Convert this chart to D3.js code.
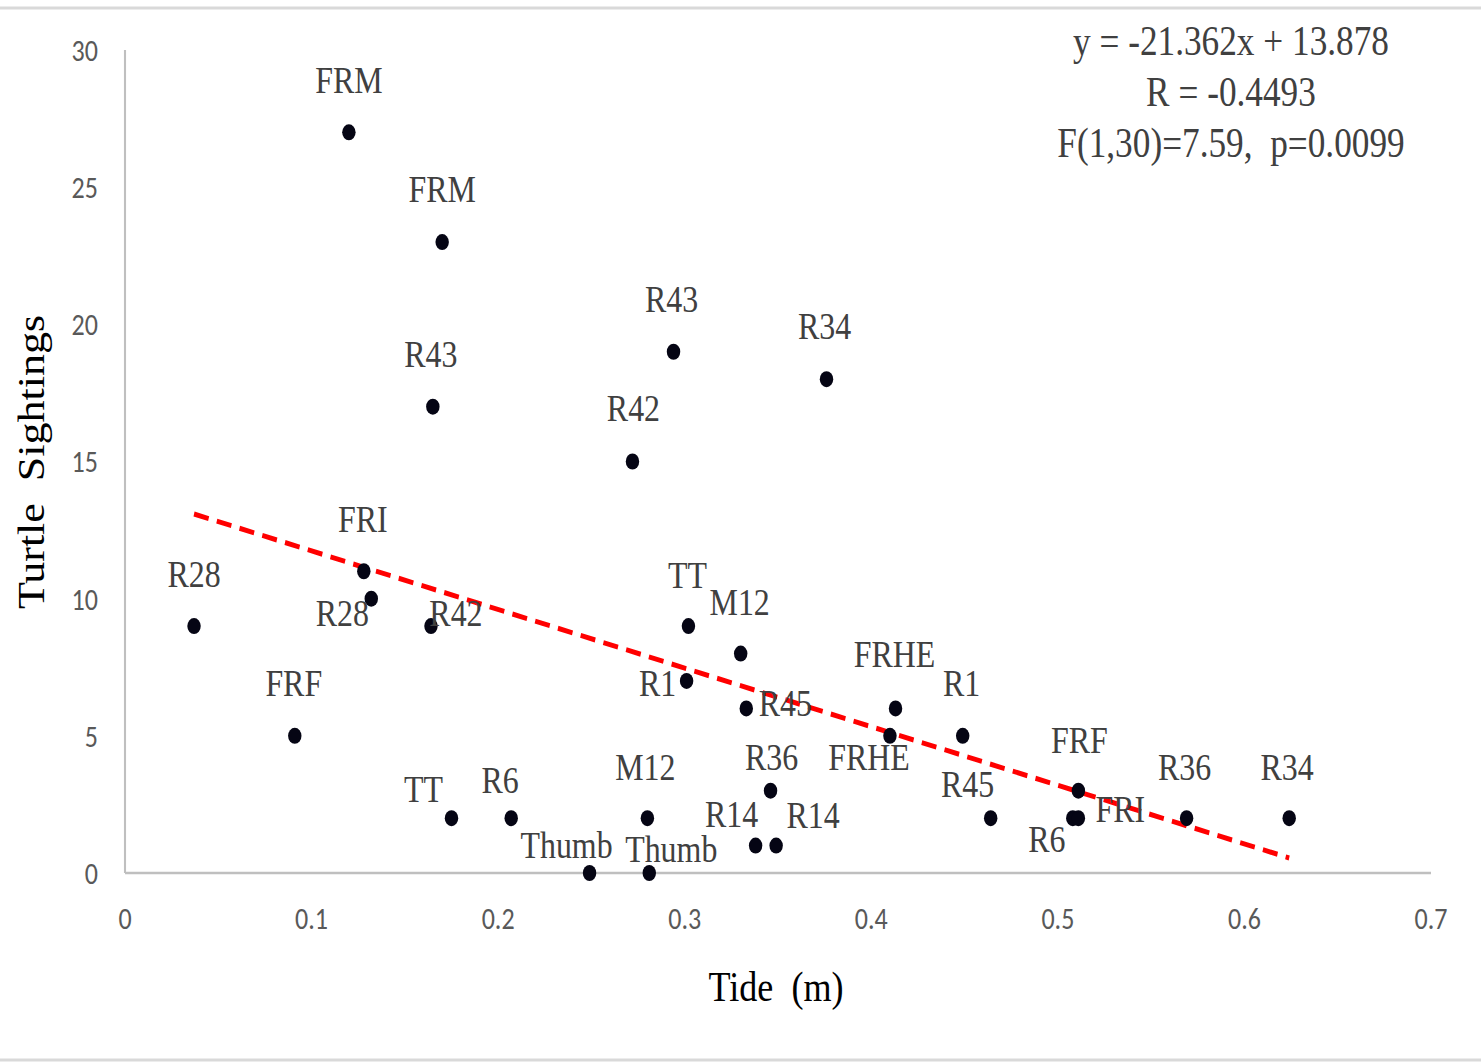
<!DOCTYPE html>
<html>
<head>
<meta charset="utf-8">
<script src="https://cdn.jsdelivr.net/npm/d3@7"></script>
<style>
  body { margin: 0; background: #fff; }
  svg { display: block; }
</style>
</head>
<body>
<svg id="chart"></svg>
<script>
// ---------------------------------------------------------------------------
// data
var site = ["FRM", "FRM", "R43", "R43", "R34", "R42", "FRI", "R28", "R28", "R42",
    "TT", "M12", "R1", "R45", "FRHE", "FRHE", "R1", "FRF", "FRF", "R36",
    "TT", "R6", "M12", "R45", "R6", "FRI", "R36", "R34", "R14", "R14",
    "Thumb", "Thumb"];
var tide = [0.120, 0.170, 0.165, 0.294, 0.376, 0.272, 0.128, 0.132, 0.037, 0.164,
    0.302, 0.330, 0.301, 0.333, 0.413, 0.410, 0.449, 0.091, 0.511, 0.346,
    0.175, 0.207, 0.280, 0.464, 0.508, 0.511, 0.569, 0.624, 0.338, 0.349,
    0.249, 0.281];
var sightings = [27, 23, 17, 19, 18, 15, 11, 10, 9, 9,
    9, 8, 7, 6, 6, 5, 5, 5, 3, 3,
    2, 2, 2, 2, 2, 2, 2, 2, 1, 1,
    0, 0];
var xTicks = [0, 0.1, 0.2, 0.3, 0.4, 0.5, 0.6, 0.7];
var yTicks = [0, 5, 10, 15, 20, 25, 30];
var slope = -21.362;
var intercept = 13.878;
var statLines = ["y = -21.362x + 13.878", "R = -0.4493", "F(1,30)=7.59,  p=0.0099"];

// label placement (screen px from the dot: centre x, baseline y)
var labelDx = [0, 0, -2, -2, -2, 1, -1, -29, 0, 25,
    -1, -1, -29, 39, -1, -21, -1, -1, 1, 1,
    -28, -11, -2, -23, -26, 42, -2, -2, -24, 37,
    -23, 22];
var labelDy = [-39, -40, -40, -40, -40, -40, -39, 27, -39, 0,
    -38, -39, 15, 8, -41, 34, -40, -40, -38, -21,
    -16, -25, -38, -21, 34, 4, -38, -38, -19, -18,
    -15, -11];
// ===========================================================================

var W = 1481, H = 1062;
var sx = 0.84;   // the whole figure is squeezed horizontally

var svg = d3.select("#chart").attr("width", W).attr("height", H);

svg.append("rect")
    .attr("x", -3).attr("y", 8)
    .attr("width", W + 6).attr("height", H - 10)
    .attr("fill", "#fff")
    .attr("stroke", "#d9d9d9")
    .attr("stroke-width", 3);

var g = svg.append("g").attr("transform", `scale(${sx},1)`);

var xScale = d3.scaleLinear()
    .domain([0, 0.7])
    .range([125 / sx, 1431 / sx]);
var yScale = d3.scaleLinear()
    .domain([0, 30])
    .range([873, 50]);

// axes lines
g.append("line")
    .attr("x1", xScale(0)).attr("x2", xScale(0))
    .attr("y1", yScale(30)).attr("y2", yScale(0))
    .attr("stroke", "#bfbfbf").attr("stroke-width", 2.5);
g.append("line")
    .attr("x1", xScale(0)).attr("x2", xScale(0.7))
    .attr("y1", yScale(0)).attr("y2", yScale(0))
    .attr("stroke", "#bfbfbf").attr("stroke-width", 2.5);

var tickFont = "Carlito, Lato, 'Open Sans', sans-serif";
var serif = "'Liberation Serif', 'Times New Roman', serif";

g.selectAll("text.ytick")
    .data(yTicks)
    .enter()
    .append("text")
    .attr("class", "ytick")
    .attr("x", 98 / sx)
    .attr("y", (d) => yScale(d))
    .attr("dy", "0.35em")
    .attr("text-anchor", "end")
    .attr("font-family", tickFont)
    .attr("font-size", 31)
    .attr("fill", "#595959")
    .text((d) => d);

g.selectAll("text.xtick")
    .data(xTicks)
    .enter()
    .append("text")
    .attr("class", "xtick")
    .attr("x", (d) => xScale(d))
    .attr("y", 918)
    .attr("dy", "0.35em")
    .attr("text-anchor", "middle")
    .attr("font-family", tickFont)
    .attr("font-size", 31)
    .attr("fill", "#595959")
    .text((d) => d);

// trend line over the data range
var xMin = d3.min(tide), xMax = d3.max(tide);
g.append("line")
    .attr("x1", xScale(xMin)).attr("y1", yScale(slope * xMin + intercept))
    .attr("x2", xScale(xMax)).attr("y2", yScale(slope * xMax + intercept))
    .attr("stroke", "#ff0000")
    .attr("stroke-width", 5)
    .attr("stroke-dasharray", "18,10");

// points
var pts = d3.range(site.length);
g.selectAll("circle")
    .data(pts)
    .enter()
    .append("circle")
    .attr("cx", (i) => xScale(tide[i]))
    .attr("cy", (i) => yScale(sightings[i]))
    .attr("r", 8)
    .attr("fill", "#050514");

// point labels
g.selectAll("text.lbl")
    .data(pts)
    .enter()
    .append("text")
    .attr("class", "lbl")
    .attr("x", (i) => xScale(tide[i]) + labelDx[i] / sx)
    .attr("y", (i) => yScale(sightings[i]) + labelDy[i])
    .attr("text-anchor", "middle")
    .attr("font-family", serif)
    .attr("font-size", 38)
    .attr("fill", "#404040")
    .text((i) => site[i]);

// regression statistics
g.selectAll("text.stat")
    .data(statLines)
    .enter()
    .append("text")
    .attr("class", "stat")
    .attr("x", 1231 / sx)
    .attr("y", (d, i) => 55 + i * 51)
    .attr("text-anchor", "middle")
    .attr("font-family", serif)
    .attr("font-size", 42)
    .attr("fill", "#404040")
    .style("white-space", "pre")
    .text((d) => d);

// axis titles
g.append("text")
    .attr("x", 776 / sx)
    .attr("y", 1001)
    .attr("text-anchor", "middle")
    .attr("font-family", serif)
    .attr("font-size", 43)
    .attr("fill", "#000")
    .style("white-space", "pre")
    .text("Tide  (m)");

g.append("text")
    .attr("transform", `translate(${44 / sx},462) rotate(-90)`)
    .attr("text-anchor", "middle")
    .attr("font-family", serif)
    .attr("font-size", 44)
    .attr("fill", "#000")
    .style("white-space", "pre")
    .text("Turtle  Sightings");
</script>
</body>
</html>
